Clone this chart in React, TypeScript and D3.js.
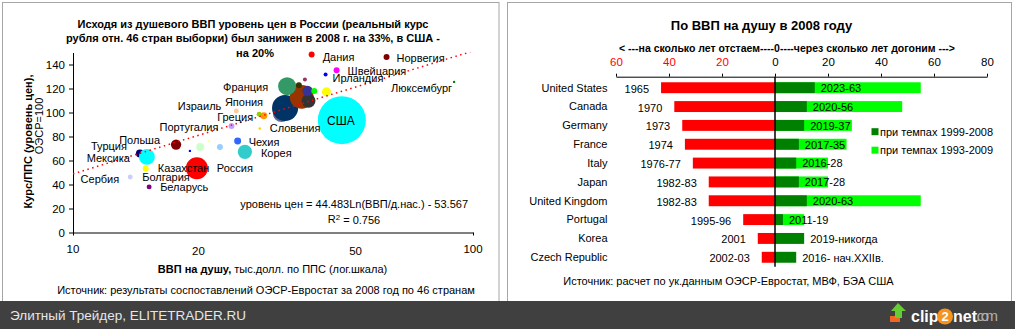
import React, { useEffect, useRef } from 'react';
import * as d3 from 'd3';

const W = 1015;
const H = 329;
const FONT = '"Liberation Sans", Arial, sans-serif';

// ---- left chart: price level vs GDP per capita (bubbles) ----
const countries = [
  'США', 'Италия', 'Япония', 'Германия', 'Великобритания', 'Франция', 'Нидерланды',
  'Финляндия', 'Исландия', 'Австрия', 'Австралия', 'Ирландия', 'Швейцария', 'Дания',
  'Норвегия', 'Люксембург', 'Испания', 'Греция', 'Израиль', 'Словения', 'Португалия',
  'Чехия', 'Корея', 'Эстония', 'Литва', 'Венгрия', 'Латвия', 'Польша', 'Турция',
  'Мексика', 'Россия', 'Казахстан', 'Болгария', 'Беларусь',
];
const gdpPerCapita = [
  47.0, 33.2, 33.9, 37.3, 38.8, 34.3, 38.6,
  36.7, 38.0, 40.1, 43.0, 42.8, 45.6, 39.5,
  60.8, 89.7, 30.0, 29.2, 25.6, 29.3, 24.9,
  25.8, 26.9, 23.3, 21.9, 20.8, 19.6, 18.1, 14.7,
  15.3, 20.4, 15.2, 13.9, 15.5,
];
const priceLevel = [
  93.6, 99.2, 103.8, 113.0, 109.7, 121.9, 118.0,
  122.8, 127.5, 118.0, 117.2, 131.7, 135.2, 148.3,
  146.3, 125.5, 97.2, 98.6, 101.3, 86.7, 88.8,
  76.3, 67.2, 71.3, 76.0, 71.3, 68.0, 73.3, 65.8,
  63.0, 53.6, 53.3, 46.3, 38.0,
];
const gdpTotal = [
  14200, 1800, 4200, 3500, 1200, 2000, 650,
  220, 100, 220, 500, 100, 220, 220,
  220, 25, 300, 150, 150, 25, 220,
  300, 1250, 220, 25, 400, 25, 650, 400,
  1550, 3000, 220, 150, 150,
];
const bubbleColor: Record<string, string> = {
  'США': '#00FFFF', 'Италия': '#666699', 'Япония': '#003366', 'Германия': '#993300',
  'Великобритания': '#333333', 'Франция': '#339966', 'Нидерланды': '#333399',
  'Финляндия': '#333300', 'Исландия': '#993366', 'Австрия': '#00FF00', 'Австралия': '#FFFF00',
  'Ирландия': '#0000FF', 'Швейцария': '#FF00FF', 'Дания': '#FF0000', 'Норвегия': '#800000',
  'Люксембург': '#008000', 'Испания': '#FF9900', 'Греция': '#99CC00', 'Израиль': '#FFCC99',
  'Словения': '#FFCC00', 'Португалия': '#CC99FF', 'Чехия': '#3366FF', 'Корея': '#33CCCC',
  'Эстония': '#99CCFF', 'Литва': '#FFFF99', 'Венгрия': '#CCFFCC', 'Латвия': '#0000FF',
  'Польша': '#800000', 'Турция': '#000080', 'Мексика': '#00FFFF', 'Россия': '#FF0000',
  'Казахстан': '#FFFF00', 'Болгария': '#CCCCFF', 'Беларусь': '#800080',
};
// label text, point it hangs on, offset in px, anchor
const bubbleLabels: [string, string, number, number, string][] = [
  ['Дания', 'Дания', 11, 3, 'start'],
  ['Норвегия', 'Норвегия', 10, 1, 'start'],
  ['Швейцария', 'Швейцария', 11, 1, 'start'],
  ['Ирландия', 'Ирландия', 7, 4, 'start'],
  ['Люксембург', 'Люксембург', -2, 6, 'end'],
  ['Франция', 'Франция', -19, 1, 'end'],
  ['Япония', 'Япония', -22, -6, 'end'],
  ['Израиль', 'Израиль', -15, -5, 'end'],
  ['Греция', 'Греция', -6, 3, 'end'],
  ['Португалия', 'Португалия', -13, 1, 'end'],
  ['Словения', 'Словения', 10, 0, 'start'],
  ['США', 'США', -1, 1, 'middle'],
  ['Чехия', 'Чехия', 11, 1, 'start'],
  ['Корея', 'Корея', 16, 1, 'start'],
  ['Польша', 'Польша', -16, -4, 'end'],
  ['Турция', 'Турция', -13, -7, 'end'],
  ['Мексика', 'Мексика', -17, 1, 'end'],
  ['Казахстан', 'Казахстан', 12, 0, 'start'],
  ['Россия', 'Россия', 20, 0, 'start'],
  ['Сербия', 'Болгария', -11, 2, 'end'],
  ['Болгария', 'Болгария', 12, 0, 'start'],
  ['Беларусь', 'Беларусь', 11, 0, 'start'],
];
const yTicksLeft = [0, 20, 40, 60, 80, 100, 120, 140];
const xTickLabelsLeft = [10, 20, 50, 100];
const trendA = 44.483;
const trendB = -53.567;

// ---- right chart: years behind / years to catch up ----
const rowLabels = [
  'United States', 'Canada', 'Germany', 'France', 'Italy', 'Japan',
  'United Kingdom', 'Portugal', 'Korea', 'Czech Republic',
];
const yearsBehind = [-43, -38, -35, -34, -31, -25, -25, -12, -6.5, -5];
const catchUpFast = [15, 12, 11, 9, 8, 9, 12, 3, 11, 8]; // при темпах 1999-2008
const catchUpSlow = [55, 48, 29, 27, 20, 20, 55, 11, 0, 0]; // при темпах 1993-2009
const behindLabels = ['1965', '1970', '1973', '1974', '1976-77', '1982-83', '1982-83', '1995-96', '2001', '2002-03'];
const catchUpLabels = ['2023-63', '2020-56', '2019-37', '2017-35', '2016-28', '2017-28', '2020-63', '2011-19', '2019-никогда', '2016- нач.XXIIв.'];
const xTicksRight = [-60, -40, -20, 0, 20, 40, 60, 80];

type Sel = d3.Selection<SVGSVGElement, unknown, null, undefined>;

function drawLeft(svg: Sel) {
  const g = svg.append('g');
  const x = d3.scaleLog().domain([10, 100]).range([73, 473]);
  const y = d3.scaleLinear().domain([0, 150]).range([232.5, 52.5]);
  const r = d3.scaleSqrt().domain([0, 14200]).range([0, 24]);

  // title
  const title = [
    'Исходя из душевого ВВП уровень цен в России (реальный курс',
    'рубля отн. 46 стран выборки) был занижен в 2008 г. на 33%, в США -',
    'на 20%',
  ];
  const titleY = [24.5, 38, 53];
  title.forEach((t, i) => {
    g.append('text')
      .attr('x', i === 2 ? 255 : 253)
      .attr('y', titleY[i])
      .attr('dy', '0.35em')
      .attr('text-anchor', 'middle')
      .style('font-size', '11px')
      .style('font-weight', 'bold')
      .text(t);
  });

  // axes
  const ya = g.append('g')
    .attr('transform', 'translate(73,0)')
    .call(d3.axisLeft(y).tickValues(yTicksLeft).tickSize(4).tickSizeOuter(0).tickPadding(4));
  ya.selectAll('text').style('font-size', '11.5px').style('font-family', FONT).attr('fill', '#000');
  ya.selectAll('line,path').attr('stroke', '#000');

  const xa = g.append('g')
    .attr('transform', 'translate(0,232.5)')
    .call(d3.axisBottom(x).tickValues([10, 100]).tickSize(3).tickSizeOuter(0).tickFormat(() => ''));
  xa.selectAll('line,path').attr('stroke', '#000');

  g.selectAll('.xl')
    .data(xTickLabelsLeft)
    .enter()
    .append('text')
    .attr('x', d => x(d) + (d === 20 ? 5 : d === 50 ? 3 : 0))
    .attr('y', d => (d === 20 || d === 50 ? 250.5 : 248.5))
    .attr('dy', '0.35em')
    .attr('text-anchor', 'middle')
    .style('font-size', '11.5px')
    .text(d => d);

  // axis titles
  g.append('text')
    .attr('transform', 'translate(28,141.5) rotate(-90)')
    .attr('dy', '0.35em')
    .attr('text-anchor', 'middle')
    .style('font-size', '11px')
    .style('font-weight', 'bold')
    .text('Курс/ППС (уровень цен),');
  g.append('text')
    .attr('transform', 'translate(39.5,126) rotate(-90)')
    .attr('dy', '0.35em')
    .attr('text-anchor', 'middle')
    .style('font-size', '11px')
    .text('ОЭСР=100');

  const xt = g.append('text')
    .attr('x', 272.5)
    .attr('y', 269)
    .attr('dy', '0.35em')
    .attr('text-anchor', 'middle')
    .style('font-size', '11px');
  xt.append('tspan').style('font-weight', 'bold').text('ВВП на душу,');
  xt.append('tspan').text(' тыс.долл. по ППС (лог.шкала)');

  g.append('text')
    .attr('x', 266)
    .attr('y', 290)
    .attr('dy', '0.35em')
    .attr('text-anchor', 'middle')
    .style('font-size', '11px')
    .text('Источник: результаты соспоставлений ОЭСР-Евростат за 2008 год по 46 странам');

  // bubbles
  const pts = countries.map((c, i) => ({ c, gx: gdpPerCapita[i], lv: priceLevel[i], s: gdpTotal[i] }));
  g.selectAll('.bubble')
    .data(pts)
    .enter()
    .append('circle')
    .attr('class', 'bubble')
    .attr('cx', d => x(d.gx))
    .attr('cy', d => y(d.lv))
    .attr('r', d => Math.max(1.2, r(d.s)))
    .attr('fill', d => bubbleColor[d.c]);

  // trend line
  g.append('clipPath').attr('id', 'plotclip')
    .append('rect').attr('x', 73).attr('y', 52.5).attr('width', 400).attr('height', 180);
  const xs = d3.range(0, 101).map(i => 10 * Math.pow(10, i / 100));
  const line = d3.line<number>()
    .x(d => x(d))
    .y(d => y(trendA * Math.log(d) + trendB));
  g.append('path')
    .datum(xs)
    .attr('clip-path', 'url(#plotclip)')
    .attr('fill', 'none')
    .attr('stroke', '#FF0000')
    .attr('stroke-width', 1.5)
    .attr('stroke-dasharray', '1.5,3.5')
    .attr('d', line);

  // labels
  const byName = new Map(pts.map(p => [p.c, p]));
  bubbleLabels.forEach(([t, at, dx, dy, anchor]) => {
    const p = byName.get(at)!;
    g.append('text')
      .attr('x', x(p.gx) + dx)
      .attr('y', y(p.lv) + dy)
      .attr('dy', '0.35em')
      .attr('text-anchor', anchor)
      .style('font-size', t === 'США' ? '12px' : '11px')
      .text(t);
  });

  // equation
  g.append('text')
    .attr('x', 468)
    .attr('y', 204)
    .attr('dy', '0.35em')
    .attr('text-anchor', 'end')
    .style('font-size', '11px')
    .text(`уровень цен = ${trendA}Ln(ВВП/д.нас.) - ${-trendB}`);
  const r2 = g.append('text')
    .attr('x', 354)
    .attr('y', 219)
    .attr('dy', '0.35em')
    .attr('text-anchor', 'middle')
    .style('font-size', '11px');
  r2.append('tspan').text('R');
  r2.append('tspan').attr('dy', '-0.4em').style('font-size', '8px').text('2');
  r2.append('tspan').attr('dy', '0.4em').text(' = 0.756');
}

function drawRight(svg: Sel) {
  const g = svg.append('g');
  const x = d3.scaleLinear().domain([-60, 80]).range([616, 987]);
  const y = d3.scaleBand().domain(rowLabels).range([78.3, 266.7]).paddingInner(0.42).paddingOuter(0.21);

  g.append('text')
    .attr('x', 761.5)
    .attr('y', 25)
    .attr('dy', '0.35em')
    .attr('text-anchor', 'middle')
    .style('font-size', '13px')
    .style('font-weight', 'bold')
    .text('По ВВП на душу в 2008 году');
  g.append('text')
    .attr('x', 787)
    .attr('y', 48.5)
    .attr('dy', '0.35em')
    .attr('text-anchor', 'middle')
    .style('font-size', '10.5px')
    .style('font-weight', 'bold')
    .text('< ---на сколько лет отстаем----0----через сколько лет догоним --->');

  const xa = g.append('g')
    .attr('transform', 'translate(0,76.7)')
    .call(d3.axisTop(x).tickValues(xTicksRight).tickSize(3).tickSizeOuter(0).tickPadding(8)
      .tickFormat(d => String(Math.abs(d as number))));
  xa.selectAll('line,path').attr('stroke', '#000');
  xa.selectAll<SVGTextElement, number>('text')
    .style('font-size', '11.5px')
    .style('font-family', FONT)
    .attr('fill', d => (d < 0 ? '#FF0000' : '#000'));

  const rows = rowLabels.map((c, i) => ({
    c, behind: yearsBehind[i], fast: catchUpFast[i], slow: catchUpSlow[i],
    bl: behindLabels[i], cl: catchUpLabels[i],
  }));
  const bw = y.bandwidth();

  g.selectAll('.red').data(rows).enter().append('rect')
    .attr('x', d => x(d.behind)).attr('y', d => y(d.c)!)
    .attr('width', d => x(0) - x(d.behind)).attr('height', bw)
    .attr('fill', '#FF0000');
  g.selectAll('.slow').data(rows.filter(d => d.slow > 0)).enter().append('rect')
    .attr('x', x(0)).attr('y', d => y(d.c)!)
    .attr('width', d => x(d.slow) - x(0)).attr('height', bw)
    .attr('fill', '#00FF00');
  g.selectAll('.fast').data(rows).enter().append('rect')
    .attr('x', x(0)).attr('y', d => y(d.c)!)
    .attr('width', d => x(d.fast) - x(0)).attr('height', bw)
    .attr('fill', '#008000');

  g.append('line')
    .attr('x1', x(0)).attr('x2', x(0))
    .attr('y1', 76.7).attr('y2', 266.7)
    .attr('stroke', '#000').attr('stroke-width', 1.5);

  rows.forEach(d => {
    const cy = y(d.c)! + bw / 2;
    g.append('text')
      .attr('x', 607.5).attr('y', cy).attr('dy', '0.35em')
      .attr('text-anchor', 'end').style('font-size', '11px').text(d.c);
    g.append('text')
      .attr('x', x(d.behind) - 12).attr('y', cy + 1.2).attr('dy', '0.35em')
      .attr('text-anchor', 'end').style('font-size', '11px').text(d.bl);
    g.append('text')
      .attr('x', x(d.fast) + 6).attr('y', cy + 0.5).attr('dy', '0.35em')
      .attr('text-anchor', 'start').style('font-size', '11px').text(d.cl);
  });

  // legend
  const legend = [['#008000', 'при темпах 1999-2008'], ['#00FF00', 'при темпах 1993-2009']];
  legend.forEach(([c, t], i) => {
    const ly = 131.7 + i * 18.5;
    g.append('rect').attr('x', 871.5).attr('y', ly - 3.5).attr('width', 7).attr('height', 7).attr('fill', c);
    g.append('text').attr('x', 880).attr('y', ly).attr('dy', '0.35em')
      .style('font-size', '11px').text(t);
  });

  g.append('text')
    .attr('x', 728.5).attr('y', 281.5).attr('dy', '0.35em')
    .attr('text-anchor', 'middle').style('font-size', '11px')
    .text('Источник: расчет по ук.данным ОЭСР-Евростат, МВФ, БЭА США');
}

function drawFrame(svg: Sel) {
  svg.append('rect').attr('x', 2.5).attr('y', 2.5).attr('width', 496.5).attr('height', 300)
    .attr('fill', 'none').attr('stroke', '#a6a6a6');
  svg.append('rect').attr('x', 507.5).attr('y', 2.5).attr('width', 504).attr('height', 300)
    .attr('fill', 'none').attr('stroke', '#a6a6a6');

  const f = svg.append('g');
  f.append('rect').attr('x', 0).attr('y', 301).attr('width', W).attr('height', 28).attr('fill', '#404040');
  f.append('text').attr('x', 10).attr('y', 315.5).attr('dy', '0.35em')
    .attr('fill', '#e6e6e6').style('font-size', '13.5px')
    .text('Элитный Трейдер, ELITETRADER.RU');
  // clip2net logo
  f.append('rect').attr('x', 890).attr('y', 316).attr('width', 10).attr('height', 6).attr('fill', '#f26522');
  f.append('polygon')
    .attr('points', '898,303 906,311 902,311 902,318 895,318 895,311 891,311')
    .attr('fill', '#66cc33');
  f.append('text').attr('x', 911).attr('y', 316).attr('dy', '0.35em')
    .attr('fill', '#fff').style('font-size', '16px').style('font-weight', 'bold').text('clip');
  f.append('circle').attr('cx', 945).attr('cy', 316.5).attr('r', 8).attr('fill', '#f7941d');
  f.append('text').attr('x', 945).attr('y', 316.5).attr('dy', '0.35em').attr('text-anchor', 'middle')
    .attr('fill', '#fff').style('font-size', '13px').style('font-weight', 'bold').text('2');
  f.append('text').attr('x', 953).attr('y', 316).attr('dy', '0.35em')
    .attr('fill', '#fff').style('font-size', '16px').style('font-weight', 'bold').text('net');
  f.append('text').attr('x', 976).attr('y', 316).attr('dy', '0.35em')
    .attr('fill', '#b0b0b0').style('font-size', '15px').attr('textLength', 22).text('.com');
}

export default function App() {
  const ref = useRef<SVGSVGElement>(null);

  useEffect(() => {
    document.body.style.margin = '0';
    if (!ref.current) return;
    const svg = d3.select(ref.current) as Sel;
    svg.selectAll('*').remove();
    svg.attr('width', W).attr('height', H)
      .style('display', 'block')
      .style('font-family', FONT);
    svg.append('rect').attr('width', W).attr('height', H).attr('fill', '#fff');
    drawLeft(svg);
    drawRight(svg);
    drawFrame(svg);
  }, []);

  return <svg ref={ref} />;
}
